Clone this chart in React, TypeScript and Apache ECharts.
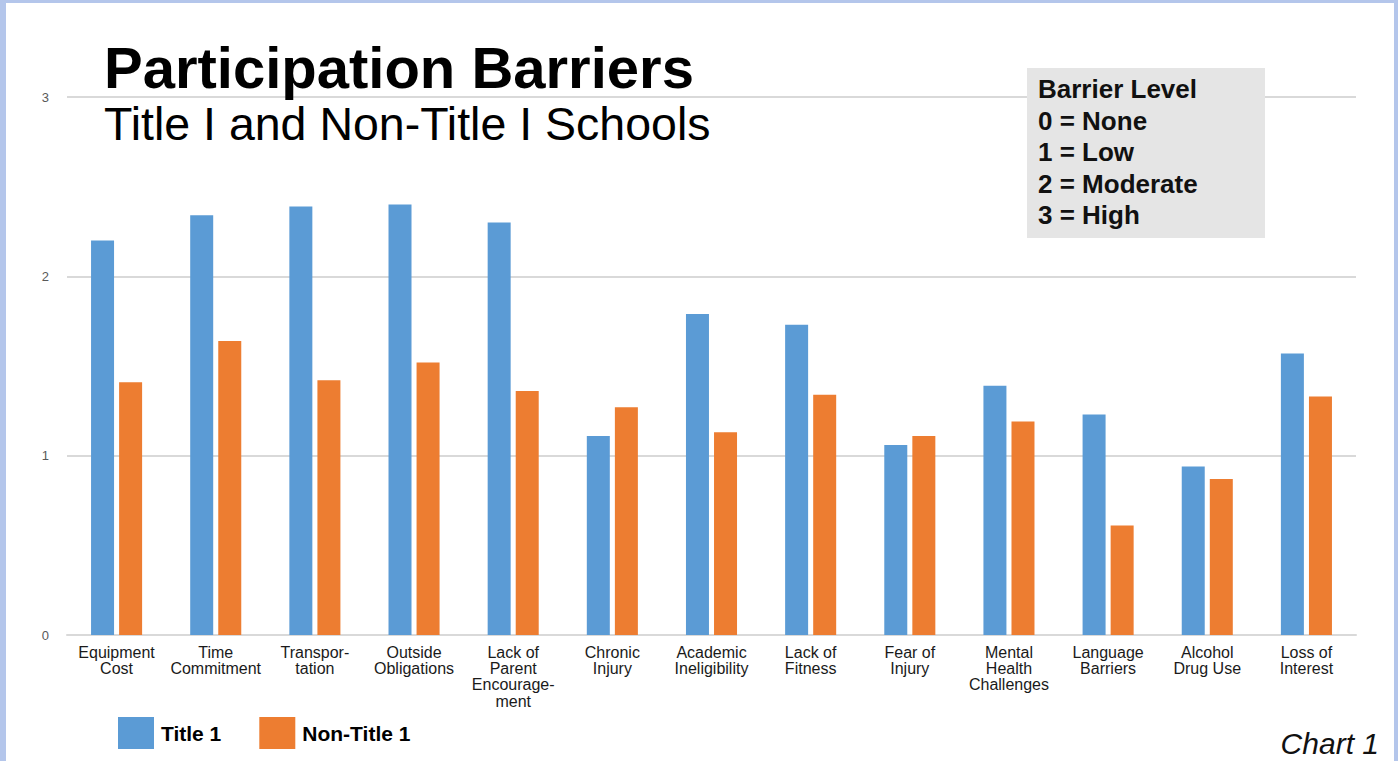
import React, { useEffect, useRef } from "react";
import * as echarts from "echarts";

const categories = [
  "Equipment\nCost",
  "Time\nCommitment",
  "Transpor-\ntation",
  "Outside\nObligations",
  "Lack of\nParent\nEncourage-\nment",
  "Chronic\nInjury",
  "Academic\nIneligibility",
  "Lack of\nFitness",
  "Fear of\nInjury",
  "Mental\nHealth\nChallenges",
  "Language\nBarriers",
  "Alcohol\nDrug Use",
  "Loss of\nInterest",
];
const title1 = [2.2, 2.34, 2.39, 2.4, 2.3, 1.11, 1.79, 1.73, 1.06, 1.39, 1.23, 0.94, 1.57];
const nonTitle1 = [1.41, 1.64, 1.42, 1.52, 1.36, 1.27, 1.13, 1.34, 1.11, 1.19, 0.61, 0.87, 1.33];
const yTicks = [0, 1, 2, 3];
const barrierLines = ["Barrier Level", "0 = None", "1 = Low", "2 = Moderate", "3 = High"];

export default function App() {
  const ref = useRef<HTMLDivElement>(null);
  useEffect(() => {
    if (!ref.current) return;
    const chart = echarts.init(ref.current, null, { renderer: "svg" });
    const font = "Liberation Sans";
    const border = "#b4c6eb";
    const txt = (
      text: string,
      x: number,
      y: number,
      size: number,
      weight: string,
      extra: any = {}
    ) => ({
      type: "text",
      x,
      y,
      z: 20,
      style: {
        text,
        fontFamily: font,
        fontSize: size,
        fontWeight: weight,
        fill: "#000",
        verticalAlign: "middle",
        ...extra,
      },
    });
    chart.setOption({
      animation: false,
      backgroundColor: "#ffffff",
      textStyle: { fontFamily: font },
      grid: { left: 67, right: 42, top: 97, bottom: 126 },
      xAxis: {
        type: "category",
        data: categories,
        axisLine: { lineStyle: { color: "#d9d9d9", width: 2 } },
        axisTick: { show: false },
        axisLabel: {
          interval: 0,
          color: "#1a1a1a",
          fontSize: 16,
          lineHeight: 16.3,
          margin: 9,
          fontFamily: font,
        },
      },
      yAxis: {
        type: "value",
        min: yTicks[0],
        max: yTicks[yTicks.length - 1],
        interval: 1,
        axisLine: { show: false },
        axisTick: { show: false },
        splitLine: { lineStyle: { color: "#d9d9d9", width: 2 } },
        axisLabel: { color: "#595959", fontSize: 13, margin: 18, fontFamily: font },
      },
      legend: {
        left: 118,
        top: 717,
        padding: 0,
        itemWidth: 36,
        itemHeight: 32,
        itemGap: 38,
        icon: "rect",
        textStyle: {
          fontSize: 21,
          fontWeight: "bold",
          color: "#000",
          fontFamily: font,
          padding: [0, 0, 0, 2],
        },
        data: ["Title 1", "Non-Title 1"],
      },
      series: [
        {
          name: "Title 1",
          type: "bar",
          data: title1,
          barWidth: 23,
          barGap: "22%",
          itemStyle: { color: "#5b9bd5" },
        },
        {
          name: "Non-Title 1",
          type: "bar",
          data: nonTitle1,
          barWidth: 23,
          itemStyle: { color: "#ed7d31" },
        },
      ],
      graphic: [
        { type: "rect", z: 20, shape: { x: 0, y: 0, width: 1398, height: 3 }, style: { fill: border }, silent: true },
        { type: "rect", z: 20, shape: { x: 0, y: 0, width: 6, height: 761 }, style: { fill: border }, silent: true },
        { type: "rect", z: 20, shape: { x: 1394, y: 0, width: 4, height: 761 }, style: { fill: border }, silent: true },
        txt("Participation Barriers", 104, 67, 58, "bold"),
        txt("Title I and Non-Title I Schools", 104, 124, 46.5, "normal"),
        {
          type: "rect",
          z: 19,
          shape: { x: 1027, y: 68, width: 238, height: 170 },
          style: { fill: "#e5e5e5" },
        },
        ...barrierLines.map((t, i) => txt(t, 1038, 89 + i * 31.5, 26, "bold", { fill: "#111" })),
        txt("Chart 1", 1379, 743, 30, "normal", { fontStyle: "italic", align: "right", fill: "#111" }),
      ],
    });
    return () => chart.dispose();
  }, []);
  return (
    <div
      ref={ref}
      style={{ position: "fixed", left: 0, top: 0, width: 1398, height: 761 }}
    />
  );
}
